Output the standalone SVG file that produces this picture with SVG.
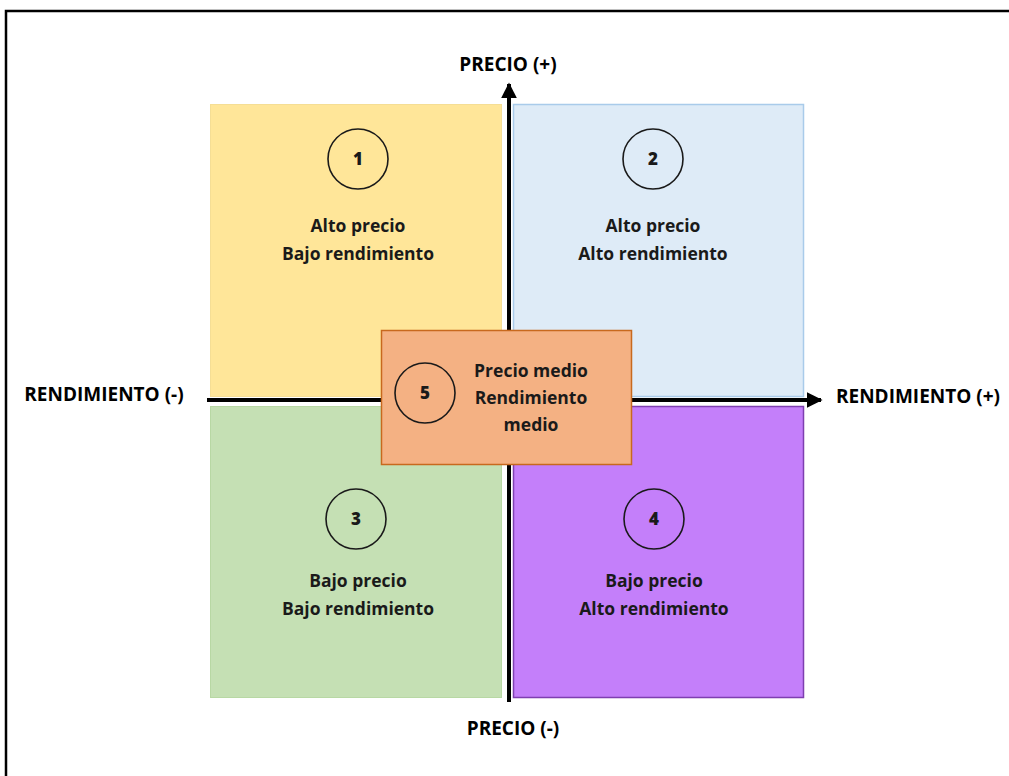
<svg xmlns="http://www.w3.org/2000/svg" width="1009" height="776" viewBox="0 0 1009 776">
  <defs>
    <marker id="arrow" viewBox="0 0 10 10" refX="9" refY="5" markerWidth="4" markerHeight="4" orient="auto" markerUnits="strokeWidth">
      <path d="M0,0 L10,5 L0,10 z" fill="#000"/>
    </marker>
  </defs>
  <style>
    text { font-family: "Open Sans", "Liberation Sans", Arial, sans-serif; font-weight: bold; fill: #1a1a1a; text-anchor: middle; }
    .lbl { font-size: 17.5px; }
    .axis-lbl { font-size: 19px; fill: #000; }
    .num { font-size: 17px; font-weight: 800; }
    .ring { fill: none; stroke: #1a1a1a; stroke-width: 1.6; }
    .axis { stroke: #000; stroke-width: 4; fill: none; }
  </style>

  <rect x="0" y="0" width="1009" height="776" fill="#fff"/>
  <!-- frame -->
  <rect x="6" y="11" width="1020" height="790" fill="none" stroke="#000" stroke-width="2.5"/>

  <!-- quadrants -->
  <g id="q1">
    <rect x="210.5" y="104.5" width="291" height="292" fill="#FFE699" stroke="#F5DE95" stroke-width="1"/>
    <circle class="ring" cx="358" cy="159" r="30"/>
    <text class="num" x="358" y="165">1</text>
    <text class="lbl" x="358" y="232">Alto precio</text>
    <text class="lbl" x="358" y="260">Bajo rendimiento</text>
  </g>
  <g id="q2">
    <rect x="513.5" y="104.5" width="290" height="292" fill="#DEEBF7" stroke="#A9CBEA" stroke-width="1.5"/>
    <circle class="ring" cx="653" cy="159" r="30"/>
    <text class="num" x="653" y="165">2</text>
    <text class="lbl" x="653" y="232">Alto precio</text>
    <text class="lbl" x="653" y="260">Alto rendimiento</text>
  </g>
  <g id="q3">
    <rect x="210.5" y="406.5" width="291" height="291" fill="#C5E0B4" stroke="#B8D8A4" stroke-width="1"/>
    <circle class="ring" cx="356" cy="519" r="30"/>
    <text class="num" x="356" y="525">3</text>
    <text class="lbl" x="358" y="587">Bajo precio</text>
    <text class="lbl" x="358" y="615">Bajo rendimiento</text>
  </g>
  <g id="q4">
    <rect x="513.5" y="406.5" width="290" height="291" fill="#C47FFA" stroke="#7E3FB0" stroke-width="1.5"/>
    <circle class="ring" cx="654" cy="519" r="30"/>
    <text class="num" x="654" y="525">4</text>
    <text class="lbl" x="654" y="587">Bajo precio</text>
    <text class="lbl" x="654" y="615">Alto rendimiento</text>
  </g>

  <!-- axes -->
  <g id="connectors">
    <line class="axis" x1="509" y1="702" x2="509" y2="84" marker-end="url(#arrow)"/>
    <line class="axis" x1="207" y1="400" x2="821" y2="400" marker-end="url(#arrow)"/>
  </g>

  <!-- centre -->
  <g id="q5">
    <rect x="381.5" y="330.5" width="250" height="134" fill="#F4B183" stroke="#C8691E" stroke-width="1.5"/>
    <circle class="ring" cx="425" cy="393" r="30"/>
    <text class="num" x="425" y="399">5</text>
    <text class="lbl" x="531" y="377">Precio medio</text>
    <text class="lbl" x="531" y="404">Rendimiento</text>
    <text class="lbl" x="531" y="431">medio</text>
  </g>

  <!-- axis labels -->
  <g id="labels">
    <text class="axis-lbl" x="508" y="71">PRECIO (+)</text>
    <text class="axis-lbl" x="513" y="735">PRECIO (-)</text>
    <text class="axis-lbl" x="104" y="401">RENDIMIENTO (-)</text>
    <text class="axis-lbl" x="918" y="403">RENDIMIENTO (+)</text>
  </g>
</svg>
